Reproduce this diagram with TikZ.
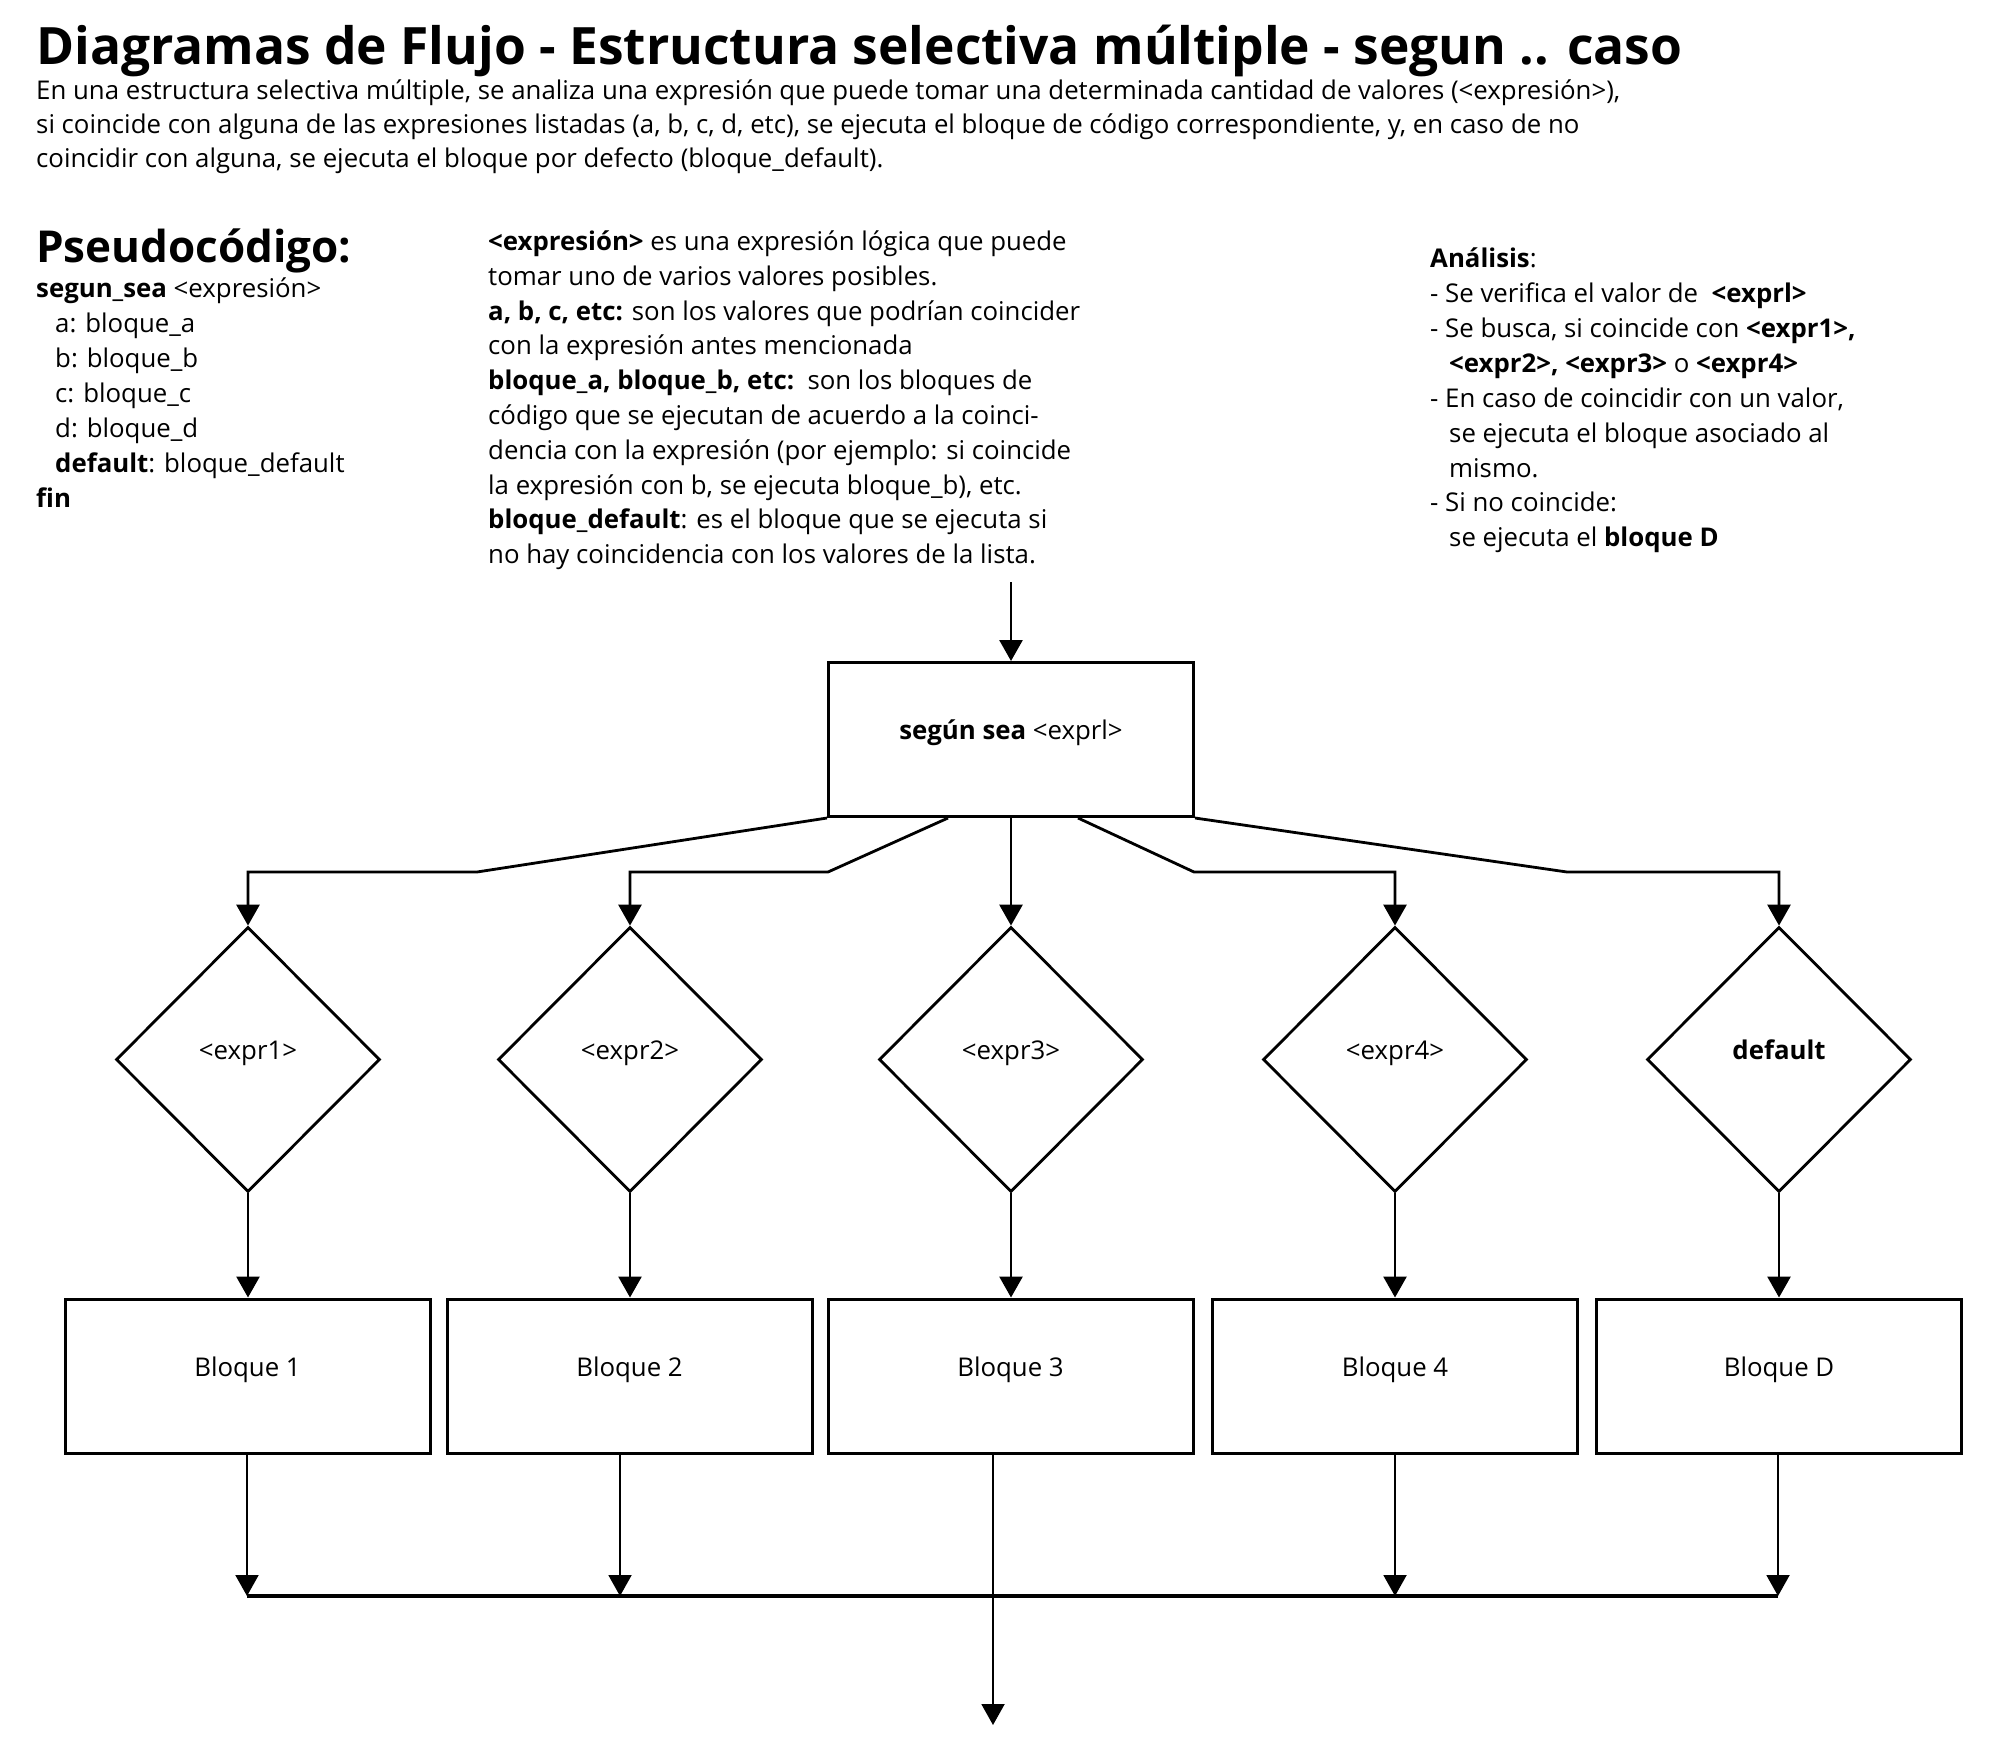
\documentclass[tikz,border=0pt]{standalone}
\usepackage{fontspec}
\setmainfont{Open Sans}
\usetikzlibrary{arrows.meta,shapes.geometric,calc}
\newcommand\bodyfnt{\fontsize{25.8}{30}\selectfont}
\begin{document}
\begin{tikzpicture}[x=1pt,y=-1pt,
  txt/.style={anchor=base west, inner sep=0pt, font=\bodyfnt},
  ttl/.style={anchor=base west, inner sep=0pt, font=\fontsize{51.5}{55}\selectfont\bfseries},
  subttl/.style={anchor=base west, inner sep=0pt, font=\fontsize{44}{48}\selectfont\bfseries},
  boxn/.style={draw, line width=3pt, minimum width=365pt, minimum height=154pt, inner sep=0pt, text height=11pt, text depth=11pt, font=\bodyfnt},
  dia/.style={draw, diamond, aspect=1, line width=2.8pt, minimum width=264pt, minimum height=265pt, inner sep=0pt, text height=11pt, text depth=11pt, font=\bodyfnt},
  arr/.style={line width=2.8pt, -{Triangle[length=21pt,width=23pt]}},
  thinarr/.style={line width=2pt, -{Triangle[length=21pt,width=23pt]}},
  bus/.style={line width=4pt}]
\useasboundingbox (0,0) rectangle (1994,1740);

% title and intro
\node[ttl] (title) at (36,64) {Diagramas de Flujo - Estructura selectiva múltiple - segun .. caso};
\node[txt] (i1) at (36,99) {En una estructura selectiva múltiple, se analiza una expresión que puede tomar una determinada cantidad de valores (<expresión>),};
\node[txt] (i2) at (36,133) {si coincide con alguna de las expresiones listadas (a, b, c, d, etc), se ejecuta el bloque de código correspondiente, y, en caso de no};
\node[txt] (i3) at (36,167) {coincidir con alguna, se ejecuta el bloque por defecto (bloque\_default).};

% pseudocode
\node[subttl] (ps) at (36,262) {Pseudocódigo:};
\node[txt] (p1) at (36,297) {\textbf{segun\_sea} <expresión>};
\node[txt] (p2) at (55,332) {a: bloque\_a};
\node[txt] (p3) at (55,367) {b: bloque\_b};
\node[txt] (p4) at (55,402) {c: bloque\_c};
\node[txt] (p5) at (55,437) {d: bloque\_d};
\node[txt] (p6) at (55,472) {\textbf{default}: bloque\_default};
\node[txt] (p7) at (36,507) {\textbf{fin}};

% middle explanation
\node[txt] (m1) at (488,250) {\textbf{<expresión>} es una expresión lógica que puede};
\node[txt] (m2) at (488,285) {tomar uno de varios valores posibles.};
\node[txt] (m3) at (488,320) {\textbf{a, b, c, etc:} son los valores que podrían coincider};
\node[txt] (m4) at (488,354) {con la expresión antes mencionada};
\node[txt] (m5) at (488,389) {\textbf{bloque\_a, bloque\_b, etc:}\ \ son los bloques de};
\node[txt] (m6) at (488,424) {código que se ejecutan de acuerdo a la coinci-};
\node[txt] (m7) at (488,459) {dencia con la expresión (por ejemplo: si coincide};
\node[txt] (m8) at (488,494) {la expresión con b, se ejecuta bloque\_b), etc.};
\node[txt] (m9) at (488,528) {\textbf{bloque\_default}: es el bloque que se ejecuta si};
\node[txt] (m10) at (488,563) {no hay coincidencia con los valores de la lista.};

% analysis
\node[txt] (a1) at (1430,267) {\textbf{Análisis}:};
\node[txt] (a2) at (1430,302) {- Se verifica el valor de \ \textbf{<exprl>}};
\node[txt] (a3) at (1430,337) {- Se busca, si coincide con \textbf{<expr1>,}};
\node[txt] (a4) at (1449,372) {\textbf{<expr2>, <expr3>} o \textbf{<expr4>}};
\node[txt] (a5) at (1430,407) {- En caso de coincidir con un valor,};
\node[txt] (a6) at (1449,442) {se ejecuta el bloque asociado al};
\node[txt] (a7) at (1449,477) {mismo.};
\node[txt] (a8) at (1430,511) {- Si no coincide:};
\node[txt] (a9) at (1449,546) {se ejecuta el \textbf{bloque D}};

% flowchart nodes
\node[boxn] (top) at (1011,739.5) {\textbf{según sea} <exprl>};
\node[dia] (d1) at (248,1059.5) {<expr1>};
\node[dia] (d2) at (630,1059.5) {<expr2>};
\node[dia] (d3) at (1011,1059.5) {<expr3>};
\node[dia] (d4) at (1395,1059.5) {<expr4>};
\node[dia] (d5) at (1779,1059.5) {\textbf{default}};
\node[boxn] (b1) at (247.5,1376) {Bloque 1};
\node[boxn] (b2) at (629.5,1376) {Bloque 2};
\node[boxn] (b3) at (1010.5,1376) {Bloque 3};
\node[boxn] (b4) at (1395,1376) {Bloque 4};
\node[boxn] (b5) at (1779,1376) {Bloque D};

% coordinates
\coordinate (in) at (1011,582);
\coordinate (k1) at (477,872);
\coordinate (k2) at (828,872);
\coordinate (k4) at (1194,872);
\coordinate (k5) at (1567,872);
\coordinate (j1) at (247,1596);
\coordinate (j2) at (620,1596);
\coordinate (j4) at (1395,1596);
\coordinate (j5) at (1778,1596);
\coordinate (out) at (993,1725);

% connectors
\draw[arr] (in) -- (top.north);
\draw[arr] (top.south west) -- (k1) -| (d1.north);
\draw[arr] ([xshift=-63pt]top.south) -- (k2) -| (d2.north);
\draw[arr] (top.south) -- (d3.north);
\draw[arr] ([xshift=67pt]top.south) -- (k4) -| (d4.north);
\draw[arr] (top.south east) -- (k5) -| (d5.north);

\draw[arr] (d1.south) -- (d1.south |- b1.north);
\draw[arr] (d2.south) -- (d2.south |- b2.north);
\draw[arr] (d3.south) -- (d3.south |- b3.north);
\draw[arr] (d4.south) -- (d4.south |- b4.north);
\draw[arr] (d5.south) -- (d5.south |- b5.north);

\draw[bus] (j1) -- (j5);
\draw[thinarr] (b1.south -| j1) -- (j1);
\draw[thinarr] (b2.south -| j2) -- (j2);
\draw[thinarr] (b4.south -| j4) -- (j4);
\draw[thinarr] (b5.south -| j5) -- (j5);
\draw[thinarr] (b3.south -| out) -- (out);
\end{tikzpicture}
\end{document}
